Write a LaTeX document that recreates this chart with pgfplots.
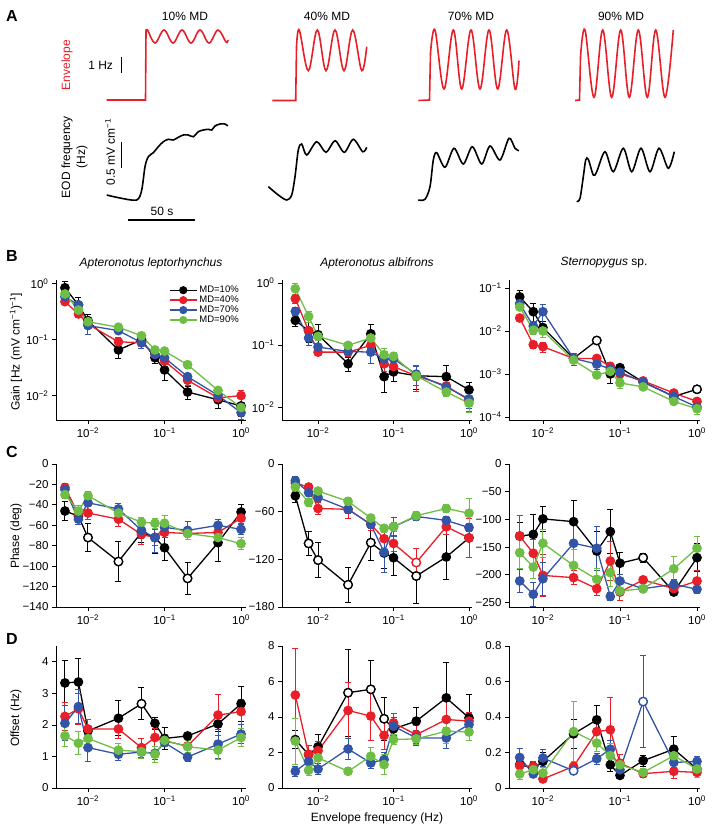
\documentclass[border=0pt]{standalone}
\usepackage{fontspec}
\setmainfont{Liberation Sans}
\usepackage{pgfplots}
\usepackage{pgfplotstable}
\pgfplotsset{compat=1.18}
\definecolor{cred}{RGB}{232,30,40}
\definecolor{cblue}{RGB}{50,85,168}
\definecolor{cgreen}{RGB}{110,190,70}
\newcommand{\tfont}{\fontsize{11.5}{13}\selectfont}
\newcommand{\lfont}{\fontsize{12}{15}\selectfont}
\newcommand{\legfont}{\fontsize{9.5}{10}\selectfont}
\newcommand{\pfont}{\fontsize{16}{18}\selectfont\bfseries}
\newcommand{\ts}[1]{\textsuperscript{#1}}

\pgfplotstableread{
f k ke r re b be g ge
0.005 0.85 0.30 0.48 0.12 0.59 0.12 0.66 0.15
0.0075 0.42 0.35 0.29 0.12 0.42 0.15 0.34 0.15
0.01 0.22 0.27 0.19 0.12 0.18 0.30 0.21 0.12
0.025 0.066 0.30 0.092 0.20 0.146 0.12 0.168 0.12
0.05 0.10 0.20 0.089 0.15 0.089 0.20 0.118 0.15
0.075 0.048 0.20 0.055 0.20 0.055 0.15 0.066 0.12
0.1 0.029 0.35 0.042 0.15 0.048 0.15 0.063 0.12
0.2 0.0117 0.25 0.019 0.20 0.022 0.15 0.036 0.15
0.5 0.0085 0.30 0.0092 0.15 0.0102 0.15 0.0125 0.12
1 0.0066 0.35 0.0101 0.25 0.005 0.25 0.0062 0.15
}\TBl
\pgfplotstableread{
f k ke r re b be g ge
0.005 0.25 0.20 0.56 0.15 0.35 0.15 0.81 0.20
0.0075 0.17 0.35 0.17 0.15 0.13 0.25 0.29 0.20
0.01 0.147 0.45 0.077 0.12 0.093 0.15 0.138 0.15
0.025 0.05 0.25 0.077 0.15 0.079 0.12 0.099 0.10
0.05 0.152 0.40 0.099 0.20 0.077 0.35 0.13 0.15
0.075 0.031 0.45 0.05 0.25 0.06 0.20 0.07 0.25
0.1 0.037 0.30 0.045 0.20 0.06 0.15 0.066 0.15
0.2 0.032 0.40 0.032 0.45 0.034 0.35 0.032 0.15
0.5 0.031 0.50 0.022 0.20 0.021 0.15 0.0175 0.15
1 0.019 0.30 0.013 0.35 0.0136 0.30 0.0116 0.30
}\TBm
\pgfplotstableread{
f k ke r re b be g ge
0.005 0.062 0.40 0.02 0.15 0.043 0.15 0.036 0.15
0.0075 0.028 0.55 0.0048 0.20 0.013 0.25 0.0104 0.20
0.01 0.012 0.40 0.0043 0.25 0.028 0.50 0.01 0.30
0.025 0.0023 0.20 0.0023 0.30 0.0023 0.15 0.0021 0.15
0.05 0.006 0.10 0.0023 0.20 0.0017 0.25 0.00095 0.15
0.075 0.001 0.40 0.0015 0.25 0.0013 0.25 0.00115 0.20
0.1 0.0014 0.20 0.001 0.20 0.0011 0.20 0.00062 0.25
0.2 0.00065 0.15 0.00069 0.15 0.00065 0.15 0.0005 0.15
0.5 0.0003 0.15 0.00036 0.15 0.0003 0.15 0.00023 0.15
1 0.00044 0.15 0.00023 0.20 0.00017 0.20 0.000155 0.25
}\TBr
\pgfplotstableread{
f k ke r re b be g ge
0.005 -46 9 -23 4 -25 4 -30 4
0.0075 -51 5 -49 4 -54 5 -46 5
0.01 -72 14 -48 6 -38 4 -31 4
0.025 -95.5 20 -54 7 -44 5 -48 5
0.05 -67 10 -69 10 -65 8 -57 5
0.075 -72 16 -72 8 -72 15 -58 5
0.1 -82 12 -67 5 -62 4 -58 8
0.2 -112 16 -68 6 -65 9 -68 6
0.5 -77 18 -67 6 -60 6 -72 5
1 -47 7 -53 5 -64 5 -78 6
}\TCl
\pgfplotstableread{
f k ke r re b be g ge
0.005 -40 8 -24 5 -21 5 -29 5
0.0075 -100 15 -29 5 -36 5 -48 5
0.01 -121 22 -56 8 -42 5 -34 5
0.025 -152 22 -57 12 -57 5 -47 5
0.05 -99 22 -76 8 -76 5 -68 5
0.075 -112 20 -94 15 -111 25 -81 5
0.1 -118 22 -100 10 -79 12 -79 6
0.2 -141 35 -124 18 -66 5 -65 5
0.5 -117 28 -79 10 -71 5 -56 5
1 -93 25 -93 25 -80 5 -62 18
}\TCm
\pgfplotstableread{
f k ke r re b be g ge
0.005 -130 25 -130 37 -211 20 -160 28
0.0075 -127 35 -161 25 -235 22 -186 20
0.01 -99 22 -201 38 -207 30 -143 25
0.025 -104 38 -205 12 -143 40 -183 28
0.05 -157 35 -225 13 -152 40 -208 20
0.075 -122 40 -175 35 -239 8 -196 25
0.1 -179 20 -231 15 -211 12 -229 6
0.2 -169 8 -209 5 -225 5 -225 5
0.5 -231 5 -225 5 -217 8 -189 22
1 -169 25 -211 18 -226 8 -152 22
}\TCr
\pgfplotstableread{
f k ke r re b be g ge
0.005 3.33 0.7 2.27 0.45 2.05 0.55 1.65 0.35
0.0075 3.36 0.75 2.51 0.5 2.58 0.55 1.42 0.37
0.01 1.81 0.35 1.87 0.3 1.28 0.45 1.57 0.3
0.025 2.21 0.55 1.87 0.3 1.07 0.2 1.2 0.2
0.05 2.67 0.5 1.28 0.3 1.14 0.2 1.15 0.2
0.075 2.05 0.2 1.6 0.3 1.1 0.2 1.07 0.25
0.1 1.57 0.35 1.49 0.1 1.44 0.1 1.51 0.2
0.2 1.65 0.1 1.33 0.2 0.98 0.15 1.31 0.2
0.5 2.03 0.25 2.31 0.65 1.39 0.45 1.2 0.3
1 2.67 0.55 2.42 0.4 1.71 0.3 1.6 0.3
}\TDl
\pgfplotstableread{
f k ke r re b be g ge
0.005 2.73 0.5 5.24 2.6 0.94 0.3 2.64 1.3
0.0075 1.88 0.5 1.9 0.5 1.5 0.3 1.0 0.3
0.01 2.32 0.7 2.1 0.5 1.07 0.3 1.7 0.6
0.025 5.37 2.45 4.37 1.6 2.2 0.6 0.94 0.2
0.05 5.56 1.6 4.05 1.35 1.41 0.3 1.79 0.5
0.075 3.9 1.2 2.96 0.8 1.6 0.4 1.32 0.55
0.1 3.33 0.5 3.67 0.5 3.48 0.5 2.73 0.3
0.2 3.77 0.75 3.0 0.5 2.82 0.4 2.77 0.3
0.5 5.08 2.0 3.86 1.2 2.82 0.6 3.2 0.7
1 3.95 1.3 3.77 0.5 3.58 0.6 3.16 0.5
}\TDm
\pgfplotstableread{
f k ke r re b be g ge
0.005 0.131 0.03 0.126 0.03 0.172 0.05 0.079 0.03
0.0075 0.112 0.03 0.122 0.03 0.079 0.02 0.103 0.03
0.01 0.15 0.05 0.051 0.02 0.169 0.05 0.084 0.03
0.025 0.305 0.08 0.122 0.03 0.097 0.01 0.318 0.17
0.05 0.384 0.08 0.318 0.06 0.165 0.03 0.253 0.05
0.075 0.131 0.04 0.328 0.18 0.219 0.05 0.182 0.07
0.1 0.071 0.02 0.14 0.05 0.103 0.03 0.131 0.03
0.2 0.154 0.03 0.081 0.02 0.487 0.26 0.088 0.02
0.5 0.219 0.07 0.094 0.04 0.144 0.03 0.182 0.05
1 0.107 0.03 0.088 0.02 0.15 0.03 0.107 0.05
}\TDr

\pgfplotsset{
  mypanel/.style={
    scale only axis, anchor=south west, clip=false,
    axis x line=bottom, axis y line=left,
    axis line style={-, line width=0.8pt},
    tick align=outside, major tick length=4pt,
    tick style={line width=0.8pt, black},
    xminorticks=false, yminorticks=false,
    xtick={0.01,0.1,1},
    xticklabels={10\ts{−2},10\ts{−1},10\ts{0}},
    tick label style={font=\tfont},
  },
  myser/.style={color=#1, line width=1.3pt, mark=*, mark size=4.2pt,
    mark options={solid, fill=#1, draw=#1}},
  myerr/.style={error bars/.cd, y dir=both, y explicit,
    error bar style={line width=1pt, solid},
    error mark options={rotate=90, mark size=3pt, line width=1pt}},
  myrel/.style={error bars/.cd, y dir=both, y explicit relative,
    error bar style={line width=1pt, solid},
    error mark options={rotate=90, mark size=3pt, line width=1pt}},
  myopen/.style={only marks, mark=*, mark size=4.2pt,
    mark options={solid, fill=white, draw=#1, line width=1.3pt}, forget plot},
}
\newcommand{\four}[2]{%
  \addplot[myser=black,#2] table[x=f,y=k,y error=ke]{#1};
  \addplot[myser=cred,#2] table[x=f,y=r,y error=re]{#1};
  \addplot[myser=cblue,#2] table[x=f,y=b,y error=be]{#1};
  \addplot[myser=cgreen,#2] table[x=f,y=g,y error=ge]{#1};
}

\begin{document}
\begin{tikzpicture}
\path[use as bounding box] (0,0) rectangle (714pt,-830pt);

% ---------------- Panel A ----------------
\begin{axis}[at={(0pt,0pt)}, anchor=north west, scale only axis,
  width=714pt, height=230pt, xmin=0, xmax=714, ymin=-230, ymax=0,
  hide axis, clip=false]
% envelope (red)
\addplot[cred, line width=1.6pt, sharp plot] coordinates {(106.7,-100) (145.5,-100) (146,-31)};
\addplot[cred, line width=1.6pt, smooth, tension=0.6] coordinates {(146,-31) (147.5,-30) (155,-43) (164,-30) (173,-43) (182,-30) (191,-43) (200,-30) (209,-43) (218,-30) (226,-42) (228,-40)};
\addplot[cred, line width=1.6pt, sharp plot] coordinates {(272.3,-100.5) (295.7,-100.5) (296.5,-47)};
\addplot[cred, line width=1.6pt, smooth, tension=0.6] coordinates {(296.5,-47) (299.3,-30) (308.3,-70.7) (317.3,-30) (326,-70.7) (335,-30) (344,-70.7) (352.7,-30) (361.7,-70.7) (366.7,-46.7)};
\addplot[cred, line width=1.6pt, sharp plot] coordinates {(418.3,-100.5) (429.5,-100) (430.5,-53)};
\addplot[cred, line width=1.6pt, smooth, tension=0.6] coordinates {(430.5,-53) (435,-30) (444,-89) (453.3,-30) (461.7,-89) (471,-30) (480,-89) (489,-30) (497.7,-89) (506.7,-30) (515,-89) (519,-60.7)};
\addplot[cred, line width=1.6pt, sharp plot] coordinates {(575,-100.5) (579.5,-100) (580.5,-57)};
\addplot[cred, line width=1.6pt, smooth, tension=0.6] coordinates {(580.5,-57) (585,-30) (594,-97.3) (602.7,-30) (611.7,-97.3) (620.7,-30) (629.3,-97.3) (638.3,-30) (647.3,-97.3) (655.7,-30) (665,-97.3) (673.3,-30)};
% EOD frequency (black)
\addplot[black, line width=1.6pt, smooth, tension=0.5] coordinates {(106.7,-195) (120,-198) (136.7,-200) (141.7,-190) (145,-166.7) (148.3,-156.7) (153.3,-152.7) (158.3,-146.7) (163.3,-141.7) (168.3,-139.3) (173.3,-140) (178.3,-137.3) (183.3,-135) (188.3,-135) (193.3,-136.7) (198.3,-131.7) (203.3,-130) (208.3,-129.3) (211.7,-130) (215,-126) (220,-124) (225,-124) (227.7,-126)};
\addplot[black, line width=1.6pt, smooth, tension=0.5] coordinates {(268.3,-186.7) (278.3,-195) (286.7,-200) (291.7,-195) (295,-176.7) (298.3,-150) (301.7,-144) (306.7,-155) (316.7,-141.7) (326,-152.3) (335,-140.7) (344.3,-152.3) (353.3,-139.3) (362.7,-151.7) (366.7,-147.3)};
\addplot[black, line width=1.6pt, smooth, tension=0.5] coordinates {(418.3,-200) (425,-199.3) (430,-186.7) (433.3,-160) (436.7,-152.7) (445,-167.3) (454,-148.3) (463.3,-164) (472.3,-146.7) (481.7,-164) (490,-146) (500,-160) (509,-138.3) (515,-148.3) (519,-150.7)};
\addplot[black, line width=1.6pt, smooth, tension=0.5] coordinates {(576.7,-201.7) (580,-198.3) (583.3,-176.7) (585.7,-160) (588.3,-159.3) (593.3,-175) (596.7,-171.7) (605,-151.7) (613.3,-171.7) (623.3,-148.3) (631.7,-171.7) (641,-148.3) (650,-171.7) (659,-148.3) (668.3,-168.3) (674.3,-151.7)};
% scale bars
\addplot[black, line width=1.5pt] coordinates {(121.7,-57) (121.7,-73.3)};
\addplot[black, line width=1.5pt] coordinates {(121.7,-141.7) (121.7,-168.3)};
\addplot[black, line width=1.5pt] coordinates {(128,-220) (195,-220)};
\end{axis}
\node[font=\pfont] at (12pt,-16pt) {A};
\node[font=\lfont] at (185pt,-16pt) {10\% MD};
\node[font=\lfont] at (327pt,-16pt) {40\% MD};
\node[font=\lfont] at (471pt,-16pt) {70\% MD};
\node[font=\lfont] at (621pt,-16pt) {90\% MD};
\node[font=\lfont, text=cred, rotate=90] at (67pt,-65pt) {Envelope};
\node[font=\lfont, anchor=east] at (116.5pt,-65.5pt) {1 Hz};
\node[font=\lfont, rotate=90, align=center] at (74.5pt,-157pt) {EOD frequency\\(Hz)};
\node[font=\lfont, rotate=90] at (110pt,-152pt) {0.5 mV cm\ts{−1}};
\node[font=\lfont] at (162pt,-211pt) {50 s};

% ---------------- Panel B ----------------
\node[font=\pfont] at (12pt,-256pt) {B};
\node[font=\lfont\itshape] at (151pt,-263pt) {Apteronotus leptorhynchus};
\node[font=\lfont\itshape] at (377pt,-263pt) {Apteronotus albifrons};
\node[font=\lfont] at (604pt,-263pt) {\itshape Sternopygus\upshape\ sp.};
\node[font=\lfont, rotate=90] at (16pt,-352pt) {Gain [Hz (mV cm\ts{−1})\ts{−1}]};

\begin{axis}[mypanel, xmode=log, ymode=log, at={(56pt,-420pt)}, width=190pt, height=140pt,
  xmin=0.00382, xmax=1.16, ymin=0.0037, ymax=1.17,
  ytick={0.01,0.1,1}, yticklabels={10\ts{−2},10\ts{−1},10\ts{0}},
  legend style={at={(0.589,0.979)}, anchor=north west, draw=none, fill=none,
    font=\legfont, row sep=-2.2pt, inner sep=1pt},
  legend cell align=left,
  legend image code/.code={\draw[mark repeat=2,mark phase=2] plot coordinates {(0pt,0pt) (13.5pt,0pt) (27pt,0pt)};},
  legend image post style={mark size=3.4pt}]
\four{\TBl}{myrel}
\addlegendentry{MD=10\%}
\addlegendentry{MD=40\%}
\addlegendentry{MD=70\%}
\addlegendentry{MD=90\%}
\end{axis}

\begin{axis}[mypanel, xmode=log, ymode=log, at={(282pt,-420pt)}, width=190pt, height=140pt,
  xmin=0.00333, xmax=1.096, ymin=0.0062, ymax=1.12,
  ytick={0.01,0.1,1}, yticklabels={10\ts{−2},10\ts{−1},10\ts{0}}]
\four{\TBm}{myrel}
\end{axis}

\begin{axis}[mypanel, xmode=log, ymode=log, at={(509pt,-420pt)}, width=191pt, height=140pt,
  xmin=0.00363, xmax=1.094, ymin=0.000085, ymax=0.153,
  ytick={0.0001,0.001,0.01,0.1}, yticklabels={10\ts{−4},10\ts{−3},10\ts{−2},10\ts{−1}}]
\four{\TBr}{myrel}
\addplot[myopen=black] coordinates {(0.05,0.006) (1,0.00044)};
\end{axis}

% ---------------- Panel C ----------------
\node[font=\pfont] at (12pt,-452pt) {C};
\node[font=\lfont, rotate=90] at (16pt,-536pt) {Phase (deg)};

\begin{axis}[mypanel, xmode=log, at={(56pt,-607pt)}, width=190pt, height=143pt,
  xmin=0.00382, xmax=1.16, ymin=-140, ymax=0,
  ytick={-140,-120,-100,-80,-60,-40,-20,0},
  yticklabels={−140,−120,−100,−80,−60,−40,−20,0}]
\four{\TCl}{myerr}
\addplot[myopen=black] coordinates {(0.01,-72) (0.025,-95.5) (0.2,-112)};
\end{axis}

\begin{axis}[mypanel, xmode=log, at={(282pt,-607pt)}, width=190pt, height=143pt,
  xmin=0.00333, xmax=1.096, ymin=-180, ymax=0,
  ytick={-180,-120,-60,0}, yticklabels={−180,−120,−60,0}]
\four{\TCm}{myerr}
\addplot[myopen=black] coordinates {(0.0075,-100) (0.01,-121) (0.025,-152) (0.05,-99) (0.2,-141)};
\addplot[myopen=cred] coordinates {(0.2,-124)};
\end{axis}

\begin{axis}[mypanel, xmode=log, at={(509pt,-607pt)}, width=191pt, height=143pt,
  xmin=0.00363, xmax=1.094, ymin=-258, ymax=0,
  ytick={-250,-200,-150,-100,-50,0}, yticklabels={−250,−200,−150,−100,−50,0}]
\four{\TCr}{myerr}
\addplot[myopen=black] coordinates {(0.2,-169)};
\end{axis}

% ---------------- Panel D ----------------
\node[font=\pfont] at (12pt,-639pt) {D};
\node[font=\lfont, rotate=90] at (16pt,-718pt) {Offset (Hz)};
\node[font=\lfont] at (377pt,-818pt) {Envelope frequency (Hz)};

\begin{axis}[mypanel, xmode=log, at={(56pt,-788pt)}, width=190pt, height=142pt,
  xmin=0.00382, xmax=1.16, ymin=0, ymax=4.5,
  ytick={0,1,2,3,4}, yticklabels={0,1,2,3,4}]
\four{\TDl}{myerr}
\addplot[myopen=black] coordinates {(0.05,2.67)};
\end{axis}

\begin{axis}[mypanel, xmode=log, at={(282pt,-788pt)}, width=190pt, height=142pt,
  xmin=0.00333, xmax=1.096, ymin=0, ymax=8,
  ytick={0,2,4,6,8}, yticklabels={0,2,4,6,8}]
\four{\TDm}{myerr}
\addplot[myopen=black] coordinates {(0.025,5.37) (0.05,5.56) (0.075,3.9)};
\end{axis}

\begin{axis}[mypanel, xmode=log, at={(509pt,-788pt)}, width=191pt, height=142pt,
  xmin=0.00363, xmax=1.094, ymin=0, ymax=0.8,
  ytick={0,0.2,0.4,0.6,0.8}, yticklabels={0,0.2,0.4,0.6,0.8}]
\four{\TDr}{myerr}
\addplot[myopen=cblue] coordinates {(0.025,0.097) (0.2,0.487)};
\end{axis}
\end{tikzpicture}
\end{document}
